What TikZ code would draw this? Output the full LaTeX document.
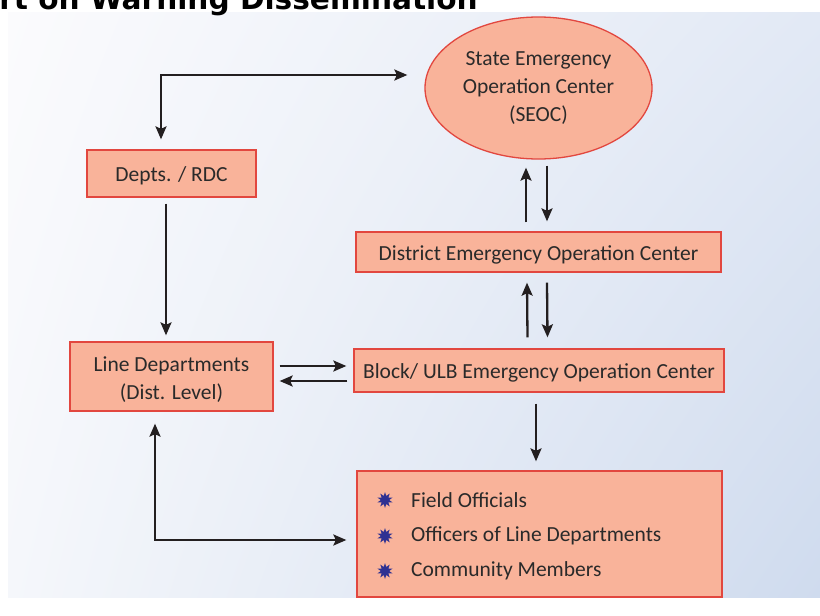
\documentclass[tikz,border=0pt]{standalone}
\usepackage{fontspec}
\setmainfont{Carlito}
\newfontfamily\titlefont{DejaVu Sans}
\usetikzlibrary{arrows.meta,shapes.geometric,shadings}
\definecolor{boxfill}{HTML}{F9B39A}
\definecolor{boxline}{HTML}{E2473F}
\definecolor{txt}{HTML}{2A2A2A}
\definecolor{arr}{HTML}{231F20}
\definecolor{bullet}{HTML}{2E3192}
\definecolor{bgUL}{HTML}{FBFBFD}
\definecolor{bgUR}{HTML}{E2E9F5}
\definecolor{bgLL}{HTML}{F5F7FB}
\definecolor{bgLR}{HTML}{CFDBEE}
\begin{document}
\begin{tikzpicture}[x=1pt,y=-1pt,
  every node/.style={text=txt, font=\fontsize{21.5}{28}\selectfont},
  box/.style={draw=boxline, line width=1.3pt, fill=boxfill, inner sep=0pt, align=center},
  one/.style={box, text height=20.5pt, text depth=4.5pt},
  oval/.style={box, ellipse},
  conn/.style={draw=arr, line width=2.3pt, -{Stealth[length=13pt,width=11pt,inset=2.5pt]}},
  bconn/.style={draw=arr, line width=2.3pt, {Stealth[length=13pt,width=11pt,inset=2.5pt]}-{Stealth[length=13pt,width=11pt,inset=2.5pt]}},
  bul/.style={star, star points=10, star point ratio=1.9, fill=bullet, minimum size=16pt, inner sep=0pt},
  item/.style={anchor=west, inner sep=0pt}]
\useasboundingbox (0,0) rectangle (820,616);
\fill[white] (0,0) rectangle (820,616);
\shade[upper left=bgUL, upper right=bgUR, lower left=bgLL, lower right=bgLR] (8,12) rectangle (820,597);
\node[anchor=base east, inner sep=0pt, text=black, font=\titlefont\bfseries\fontsize{29.6}{30}\selectfont] (title) at (478,9) {art on Warning Dissemination};

\node[oval, minimum width=227pt, minimum height=142pt] (seoc) at (538.5,88) {State Emergency\\Operation Center\\(SEOC)};
\node[one, minimum width=365pt, minimum height=40pt] (dist) at (538.5,252) {District Emergency Operation Center};
\node[one, minimum width=370pt, minimum height=43pt] (block) at (539,370.5) {Block/ ULB Emergency Operation Center};
\node[one, minimum width=169pt, minimum height=47pt] (depts) at (171.5,173.5) {Depts. / RDC};
\node[box, text height=50.8pt, text depth=5.4pt, minimum width=203pt, minimum height=69pt] (line) at (171.5,376.5) {Line Departments\\(Dist. Level)};
\node[box, minimum width=365pt, minimum height=126pt] (field) at (539.5,534) {};
\node[bul] (b1) at (385,500) {};
\node[bul] (b2) at (385,536) {};
\node[bul] (b3) at (385,571) {};
\node[item] (t1) at (411,500) {Field Officials};
\node[item] (t2) at (411,536) {Officers of Line Departments};
\node[item] (t3) at (411,571) {Community Members};

\coordinate (c1) at (161,75);
\coordinate (c2) at (155,540);
\coordinate (r1) at ([yshift=10.5pt]line.east);
\coordinate (r2) at ([yshift=-4.5pt]line.east);

\draw[bconn] ([xshift=-17pt]seoc.west |- c1) -- (c1) -- ([yshift=10pt]depts.north -| c1);
\draw[conn] ([xshift=-5.5pt,yshift=-6pt]depts.south) -- ([xshift=-5.5pt,yshift=6pt]line.north);
\draw[conn] ([xshift=-12.5pt,yshift=9pt]dist.north) -- ([xshift=-12.5pt,yshift=-8pt]dist.north |- seoc.south);
\draw[conn] ([xshift=8.5pt,yshift=-6pt]dist.north |- seoc.south) -- ([xshift=8.5pt,yshift=10pt]dist.north);
\draw[conn] ([xshift=-11.5pt,yshift=11pt]block.north) -- ([xshift=-11.5pt,yshift=-10pt]dist.south);
\draw[conn] ([xshift=8.5pt,yshift=-10pt]dist.south) -- ([xshift=8.5pt,yshift=11pt]block.north);
\draw[conn] ([xshift=-3pt,yshift=-11pt]block.south) -- ([xshift=-3pt,yshift=9pt]block.south |- field.north);
\draw[conn] ([xshift=6pt]r1) -- ([xshift=-7pt]block.west |- r1);
\draw[conn] ([xshift=-6pt]block.west |- r2) -- ([xshift=6pt]r2);
\draw[bconn] ([yshift=-12pt]line.south -| c2) -- (c2) -- ([xshift=-10pt]field.west |- c2);
\end{tikzpicture}
\end{document}
